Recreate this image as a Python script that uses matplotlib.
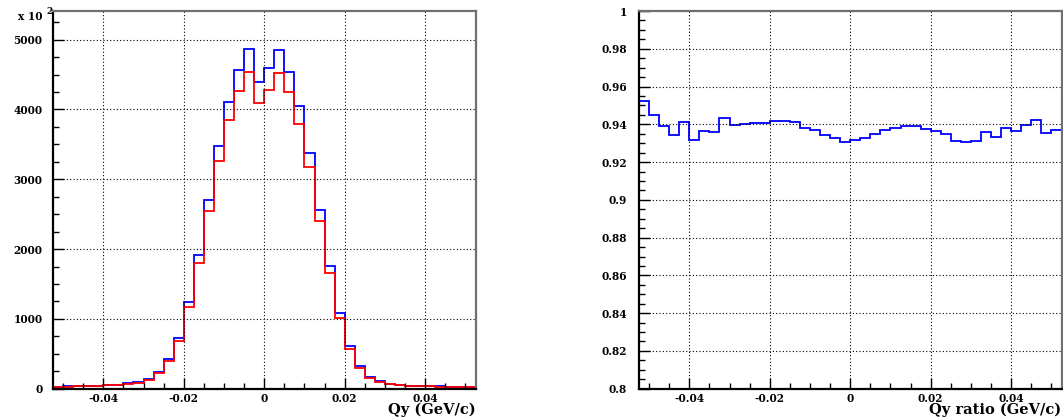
import numpy as np
import matplotlib
matplotlib.use("Agg")
import matplotlib.pyplot as plt
from matplotlib.ticker import FixedLocator, FixedFormatter

# ---------------- data ----------------
qy_edges = np.linspace(-0.0525, 0.0525, 43)

qy_blue = [30, 32, 35, 38, 42, 50, 58, 75, 90, 138, 238, 419, 733, 1237,
           1914, 2704, 3476, 4109, 4561, 4861, 4386, 4594, 4847, 4537, 4047,
           3371, 2557, 1761, 1081, 612, 319, 171, 110, 71, 52, 43, 38, 35,
           32, 30, 28, 26]
qy_red = [28, 30, 33, 36, 40, 47, 55, 70, 80, 129, 219, 395, 690, 1171,
          1800, 2547, 3261, 3847, 4261, 4537, 4086, 4276, 4523, 4251, 3790,
          3171, 2404, 1653, 1019, 571, 300, 152, 100, 66, 48, 40, 35, 33,
          30, 28, 26, 24]
qy_ratio = [0.9526, 0.9449, 0.9391, 0.9344, 0.9411, 0.9315, 0.9365, 0.9358,
            0.9432, 0.9395, 0.9400, 0.9409, 0.9409, 0.9416, 0.9416, 0.9411,
            0.9382, 0.9370, 0.9344, 0.9328, 0.9305, 0.9315, 0.9326, 0.9347,
            0.9368, 0.9381, 0.9391, 0.9391, 0.9377, 0.9366, 0.9349, 0.9310,
            0.9305, 0.9312, 0.9358, 0.9331, 0.9379, 0.9365, 0.9395, 0.9421,
            0.9356, 0.9368]

x_ticks = [-0.04, -0.02, 0.0, 0.02, 0.04]
x_ticklabels = ["-0.04", "-0.02", "0", "0.02", "0.04"]
left_yticks = [0, 1000, 2000, 3000, 4000, 5000]
left_yticklabels = ["0", "1000", "2000", "3000", "4000", "5000"]
right_yticks = [0.8, 0.82, 0.84, 0.86, 0.88, 0.9, 0.92, 0.94, 0.96, 0.98, 1.0]
right_yticklabels = ["0.8", "0.82", "0.84", "0.86", "0.88", "0.9", "0.92",
                     "0.94", "0.96", "0.98", "1"]

# ---------------- style ----------------
FONT = ["DejaVu Serif", "Liberation Serif"]
plt.rcParams["font.family"] = FONT
plt.rcParams["font.weight"] = "bold"

W, H = 1063, 420
fig = plt.figure(figsize=(W / 100, H / 100), dpi=100)

def px_axes(x0, x1, ytop, ybot):
    return fig.add_axes([x0 / W, 1 - ybot / H, (x1 - x0) / W, (ybot - ytop) / H])

ax1 = px_axes(53, 475.5, 11, 388.7)
ax2 = px_axes(639, 1061.5, 11, 388.7)

TICKSIZE = 7.6

def style(ax, yticks, ylabels, ypad, yminor):
    ax.set_xlim(-0.0525, 0.0525)
    ax.xaxis.set_major_locator(FixedLocator(x_ticks))
    ax.xaxis.set_major_formatter(FixedFormatter(x_ticklabels))
    ax.xaxis.set_minor_locator(FixedLocator(np.arange(-0.05, 0.0501, 0.005)))
    ax.yaxis.set_major_locator(FixedLocator(yticks))
    ax.yaxis.set_major_formatter(FixedFormatter(ylabels))
    ax.yaxis.set_minor_locator(FixedLocator(yminor))
    ax.tick_params(which="both", direction="in", top=False, right=False,
                   labelsize=TICKSIZE, width=1.0, color="black")
    ax.tick_params(which="major", length=8)
    ax.tick_params(which="minor", length=4)
    ax.tick_params(axis="x", which="major", pad=3)
    ax.tick_params(axis="y", which="major", pad=ypad)
    for lab in ax.get_xticklabels() + ax.get_yticklabels():
        lab.set_fontweight("bold")
    ax.grid(True, which="major", color="black", linestyle=(0, (1, 2)),
            linewidth=0.8)
    for s in ["left", "bottom"]:
        ax.spines[s].set_color("black")
        ax.spines[s].set_linewidth(1.6)
    for s in ["top", "right"]:
        ax.spines[s].set_color("#707070")
        ax.spines[s].set_linewidth(1.6)

style(ax1, left_yticks, left_yticklabels, 7.5,
      np.arange(0, 5401, 250))
ax1.set_ylim(0, 5410)
style(ax2, right_yticks, right_yticklabels, 8.5,
      np.arange(0.8, 1.0001, 0.005))
ax2.set_ylim(0.8, 1.0)

ax1.stairs(qy_blue, qy_edges, baseline=None, color="#0000ff", linewidth=1.3)
ax1.stairs(qy_red, qy_edges, baseline=None, color="#ff0000", linewidth=1.3)
ax2.stairs(qy_ratio, qy_edges, baseline=None, color="#0000ff", linewidth=1.3)

# axis titles (ROOT style, right-aligned under the axis)
fig.text(475.5 / W, 1 - 409.5 / H, "Qy (GeV/c)", ha="right", va="center",
         fontsize=10.5, fontweight="bold")
fig.text(1061 / W, 1 - 409.5 / H, "Qy ratio (GeV/c)", ha="right", va="center",
         fontsize=10.5, fontweight="bold")

# exponent label
fig.text(43 / W, 1 - 16.5 / H, "x 10", ha="right", va="center",
         fontsize=TICKSIZE, fontweight="bold")
fig.text(46.5 / W, 1 - 11.5 / H, "2", ha="left", va="center",
         fontsize=6.5, fontweight="bold")

fig.savefig("out.png", dpi=100)
